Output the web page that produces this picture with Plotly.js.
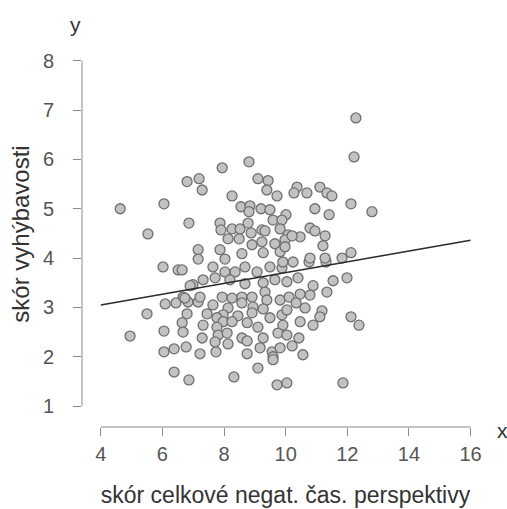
<!DOCTYPE html>
<html>
<head>
<meta charset="utf-8">
<script src="https://cdn.plot.ly/plotly-3.0.1.min.js"></script>
<style>html,body{margin:0;padding:0;background:#fff;}#chart{width:507px;height:509px;}</style>
</head>
<body>
<div id="chart"></div>
<script>
// skór celkové negat. čas. perspektivy (x) vs. skór vyhýbavosti (y)
const xVals = [4.63,4.95,5.53,5.50,6.05,6.02,6.51,6.05,6.05,6.38,6.77,6.38,6.86,6.86,6.80,7.19,7.29,7.94,8.81,8.26,
  9.10,9.43,9.39,9.72,8.55,8.84,8.81,9.20,9.49,10.01,9.59,9.88,7.87,7.90,8.26,8.52,8.78,8.88,9.23,9.33,
  9.82,10.08,8.13,8.49,8.91,9.23,9.65,9.98,7.16,7.87,8.58,9.27,9.82,7.16,7.64,8.03,
  6.64,7.32,7.71,8.03,8.36,8.68,9.07,9.49,9.88,6.99,8.19,8.68,9.27,9.65,10.04,
  6.67,6.83,7.16,7.22,7.94,8.26,8.58,8.91,9.33,9.39,9.82,10.11,7.64,8.13,8.58,8.94,9.27,
  6.80,7.45,7.97,8.45,8.91,9.88,6.64,7.32,7.77,7.97,8.26,8.75,9.10,9.49,9.91,
  6.67,7.77,7.81,7.29,8.10,8.58,8.75,9.27,9.75,10.04,7.71,8.13,9.17,9.56,9.82,7.22,8.75,7.74,
  6.44,6.09,6.73,8.32,9.10,9.59,9.72,10.04,6.90,
  11.99,11.54,11.34,10.89,10.79,10.47,10.40,10.34,10.63,11.18,11.11,10.89,10.47,12.12,12.38,10.43,10.21,9.59,10.56,
  11.86,10.76,11.31,11.83,12.12,9.91,10.24,10.04,
  12.28,12.22,12.80,12.12,10.37,10.27,10.69,11.11,11.34,11.50,10.95,11.41,10.79,10.95,11.28,11.21,10.47,10.21,
  9.98,10.79,11.28];
const yVals = [5.00,2.42,4.49,2.87,5.10,3.82,3.76,2.52,2.10,2.16,2.20,1.69,1.53,4.71,5.55,5.61,5.38,5.83,5.95,5.26,
  5.61,5.57,5.38,5.26,5.04,5.06,4.94,5.00,4.98,4.88,4.77,4.77,4.71,4.57,4.59,4.59,4.71,4.51,4.57,4.55,
  4.59,4.47,4.39,4.39,4.27,4.33,4.29,4.37,4.17,4.17,4.09,4.11,4.13,3.98,3.82,3.98,
  3.76,3.56,3.60,3.72,3.72,3.82,3.72,3.82,3.80,3.46,3.56,3.48,3.50,3.56,3.52,
  3.21,3.11,3.11,3.21,3.21,3.19,3.21,3.21,3.31,3.15,3.15,3.21,3.05,2.99,3.09,3.01,2.97,
  2.87,2.87,2.85,2.83,2.89,2.85,2.69,2.64,2.79,2.71,2.71,2.69,2.60,2.79,2.64,
  2.50,2.60,2.44,2.38,2.48,2.38,2.32,2.38,2.48,2.44,2.30,2.26,2.18,2.10,2.18,2.06,2.06,2.10,
  3.09,3.07,3.19,1.59,1.77,2.00,1.43,1.47,3.44,
  3.60,3.54,3.31,3.44,3.25,3.27,3.60,3.09,2.99,2.93,2.81,2.64,2.71,2.81,2.64,2.38,2.22,1.94,2.04,
  1.47,3.92,3.92,4.00,4.11,3.92,3.92,2.95,
  6.84,6.05,4.94,5.10,5.44,5.32,5.32,5.44,5.32,5.26,5.00,4.88,4.61,4.55,4.45,4.25,4.43,4.45,
  4.23,4.00,4.00];
// fitted regression line (at the axis ends)
const lineX = [4, 16];
const lineY = [3.05, 4.36];
// tick values
const xTicks = [4, 6, 8, 10, 12, 14, 16];
const yTicks = [1, 2, 3, 4, 5, 6, 7, 8];
const xTitle = 'skór celkové negat. čas. perspektivy';
const yTitle = 'skór vyhýbavosti';

const font = '"Liberation Sans", Arial, sans-serif';
const axisGray = '#8a8a8a';

const traces = [
  {
    type: 'scatter', mode: 'markers', x: xVals, y: yVals,
    marker: {size: 10, color: '#c2c2c2', line: {color: '#6f6f6f', width: 1.3}},
    hoverinfo: 'x+y', showlegend: false
  },
  {
    type: 'scatter', mode: 'lines', x: lineX, y: lineY,
    line: {color: '#2b2b2b', width: 1.6}, hoverinfo: 'skip', showlegend: false
  }
];

const axisCommon = {
  showgrid: false, zeroline: false, showline: false,
  ticks: 'outside', ticklen: 8, tickwidth: 1, tickcolor: axisGray,
  tickfont: {family: font, size: 20, color: '#555555'},
  tickmode: 'array', fixedrange: true
};

const layout = {
  width: 507, height: 509,
  margin: {l: 82, r: 18, t: 41, b: 82, pad: 0},
  paper_bgcolor: '#ffffff', plot_bgcolor: '#ffffff',
  font: {family: font},
  xaxis: Object.assign({}, axisCommon, {
    range: [3.39, 16.6], tickvals: xTicks, ticktext: xTicks.map(String),
    ticklabelstandoff: 1,
    title: {text: xTitle, font: {family: font, size: 23, color: '#333333'}, standoff: 22}
  }),
  yaxis: Object.assign({}, axisCommon, {
    range: [0.576, 8.4], tickvals: yTicks, ticktext: yTicks.map(String),
    ticklabelstandoff: 15,
    title: {text: yTitle, font: {family: font, size: 24, color: '#333333'}, standoff: 6}
  }),
  shapes: [
    {type: 'line', xref: 'x', yref: 'paper', x0: xTicks[0], x1: xTicks[xTicks.length - 1], y0: 0, y1: 0,
     line: {color: axisGray, width: 1}},
    {type: 'line', xref: 'paper', yref: 'y', x0: 0, x1: 0, y0: yTicks[0], y1: yTicks[yTicks.length - 1],
     line: {color: axisGray, width: 1}}
  ],
  annotations: [
    {text: 'y', xref: 'paper', yref: 'paper', x: -0.015, y: 1.042, showarrow: false,
     xanchor: 'center', yanchor: 'middle', font: {family: font, size: 21, color: '#333333'}},
    {text: 'x', xref: 'paper', yref: 'paper', x: 1.032, y: -0.010, showarrow: false,
     xanchor: 'center', yanchor: 'middle', font: {family: font, size: 21, color: '#333333'}}
  ]
};

Plotly.newPlot('chart', traces, layout, {displayModeBar: false, staticPlot: true});
</script>
</body>
</html>
